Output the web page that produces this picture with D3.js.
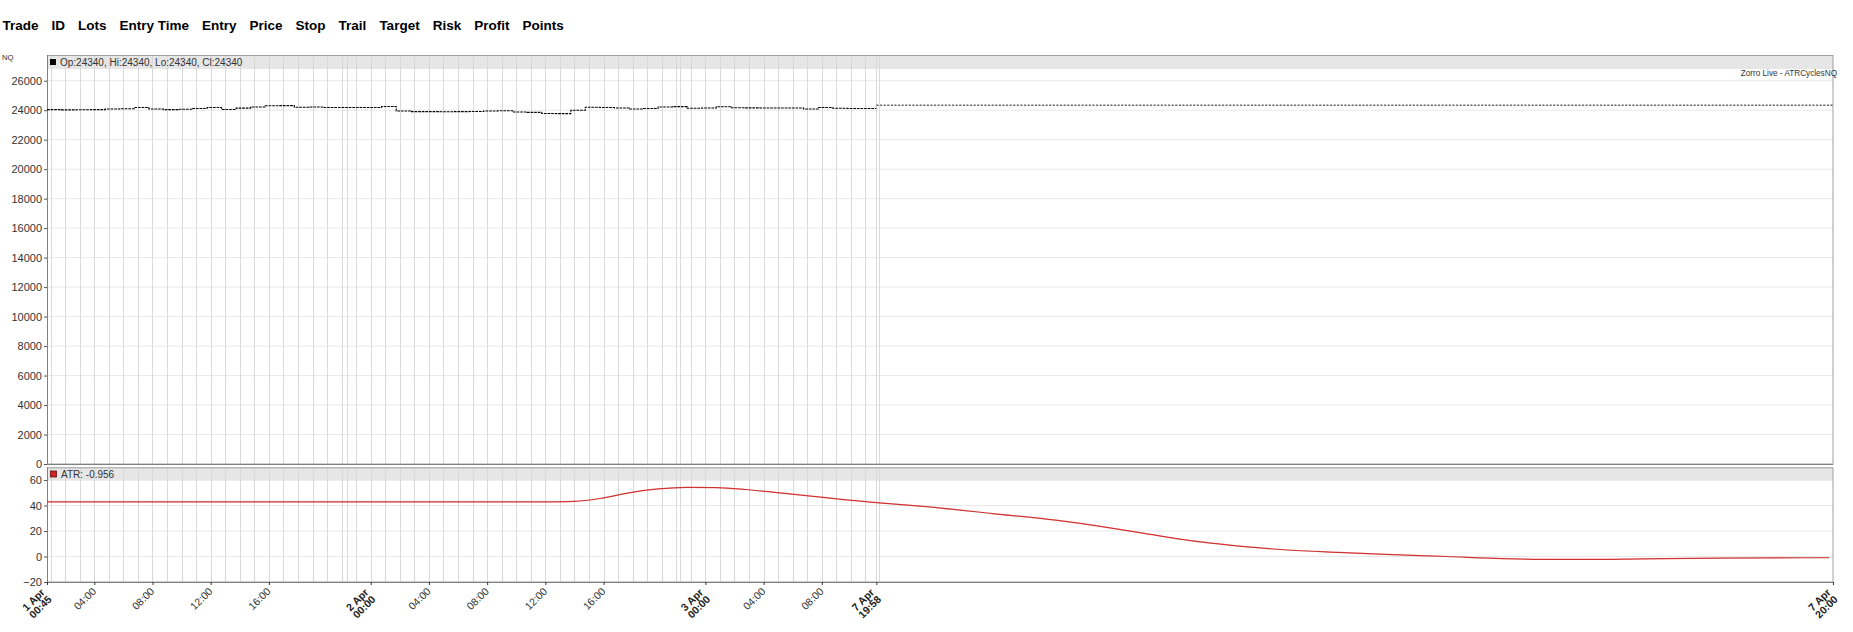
<!DOCTYPE html>
<html><head><meta charset="utf-8">
<script src="https://cdn.jsdelivr.net/npm/d3@7"></script>
<style>
body{margin:0;background:#fff}
svg{display:block}
text{font-family:Arial,"Liberation Sans",sans-serif}
</style>
</head><body>
<svg id="c" width="1853" height="632"></svg>
<script>
// ---------------- DATA ----------------
const headers = ["Trade","ID","Lots","Entry Time","Entry","Price","Stop","Trail","Target","Risk","Profit","Points"];
const symbol = "NQ";
const chartTitle = "Zorro Live - ATRCyclesNQ";
const priceLegend = "Op:24340, Hi:24340, Lo:24340, Cl:24340";
const atrLegend = "ATR: -0.956";

const priceTicks = [0,2000,4000,6000,8000,10000,12000,14000,16000,18000,20000,22000,24000,26000];
const atrTicks = [-20,0,20,40,60];

// x axis: bar index (15-minute bars) and labels
const xTickBars   = [0,13,29,45,61,89,105,121,137,153,181,197,213,228,491];
const xTickLabels = [["1 Apr","00:45"],["04:00"],["08:00"],["12:00"],["16:00"],["2 Apr","00:00"],["04:00"],["08:00"],["12:00"],["16:00"],["3 Apr","00:00"],["04:00"],["08:00"],["7 Apr","19:58"],["7 Apr","20:00"]];
const totalBars = 491;
const histBars = 228;
const extraGridBars = [82.6, 174, 228, 228.8];

// hourly closes of the historical part (each hour = 4 bars)
const hourlyPrice = [24040,24020,24030,24040,24080,24100,24180,24080,24040,24060,
  24120,24180,24050,24140,24220,24300,24310,24200,24220,24180,
  24180,24180,24180,24250,23950,23900,23900,23890,23900,23910,
  23950,23960,23880,23850,23780,23770,24000,24200,24180,24150,
  24080,24110,24220,24240,24130,24150,24230,24170,24160,24150,
  24150,24150,24080,24180,24130,24120,24120];
const livePrice = 24340;

// ATR curve (bar index, value)
const atrBars   = [0,140,145,152,160,168,176,184,192,200,212,228,240,260,280,290,300,310,320,330,340,355,370,385,400,415,430,445,460,475,490];
const atrValues = [42.9,42.9,43.2,45.5,50,53,54.3,54.1,52.6,50.3,46.8,42.3,39.5,33.7,27.5,23.5,19,14.3,10.5,7.6,5.3,3.2,1.5,0,-1.6,-2.3,-2.2,-1.6,-1.2,-1.0,-0.956];

// ---------------- LAYOUT ----------------
const svg = d3.select("#c");
const L = 47, R = 1833;
const topY0 = 55, topY1 = 464;
const lowY0 = 467.3, lowY1 = 582;

const x = d3.scaleLinear().domain([0,totalBars]).range([L,R]);
const yP = d3.scaleLinear().domain([0,27744]).range([topY1,topY0]);
const yA = d3.scaleLinear().domain([-20,70]).range([lowY1,lowY0]);

// header row
const hg = svg.append("g").attr("transform","translate(2.5,29.5)");
let cx = 0;
headers.forEach(h=>{
  const t = hg.append("text").attr("x",cx).attr("y",0).attr("font-size",13.5).attr("font-weight","bold").attr("fill","#000").text(h);
  cx += t.node().getComputedTextLength() + 13;
});

svg.append("text").attr("x",2).attr("y",60).attr("font-size",7.7).attr("fill","#333").text(symbol);

// panels background
function panel(y0,y1,bandH){
  svg.append("rect").attr("x",L).attr("y",y0).attr("width",R-L).attr("height",y1-y0).attr("fill","#fff");
  svg.append("rect").attr("x",L).attr("y",y0).attr("width",R-L).attr("height",bandH).attr("fill","#e6e6e6");
}
panel(topY0,topY1,14);
panel(lowY0,lowY1,13.4);

// horizontal gridlines
svg.append("g").selectAll("line").data(priceTicks.filter(d=>d>0)).join("line")
  .attr("x1",L).attr("x2",R).attr("y1",d=>yP(d)).attr("y2",d=>yP(d))
  .attr("stroke","#e8e8e8").attr("stroke-width",1);
svg.append("g").selectAll("line").data(atrTicks.filter(d=>d>-20 && d<60)).join("line")
  .attr("x1",L).attr("x2",R).attr("y1",d=>yA(d)).attr("y2",d=>yA(d))
  .attr("stroke","#e8e8e8").attr("stroke-width",1);

// vertical gridlines (hourly in historical part)
const vBars = d3.range(1,histBars,4).concat(extraGridBars).concat(xTickBars.filter(b=>b>0 && b<=histBars));
[[topY0,topY1],[lowY0,lowY1]].forEach(([a,b])=>{
  svg.append("g").selectAll("line").data(vBars).join("line")
    .attr("x1",d=>Math.round(x(d))+0.5).attr("x2",d=>Math.round(x(d))+0.5)
    .attr("y1",a).attr("y2",b).attr("stroke","#d9d9d9").attr("stroke-width",1);
});

// borders
[[topY0,topY1],[lowY0,lowY1]].forEach(([a,b])=>{
  svg.append("rect").attr("x",L+0.5).attr("y",a+0.5).attr("width",R-L-0.5).attr("height",b-a-0.5)
    .attr("fill","none").attr("stroke","#a0a0a0").attr("stroke-width",1);
  svg.append("line").attr("x1",L+0.5).attr("x2",L+0.5).attr("y1",a).attr("y2",b).attr("stroke","#808080");
  svg.append("line").attr("x1",L).attr("x2",R).attr("y1",b+0.5).attr("y2",b+0.5).attr("stroke","#808080");
});

// y axes
const yAxisTop = d3.axisLeft(yP).tickValues(priceTicks).tickSize(3).tickPadding(2).tickFormat(d3.format("d"));
const gTop = svg.append("g").attr("transform",`translate(${L},0)`).call(yAxisTop);
const yAxisLow = d3.axisLeft(yA).tickValues(atrTicks).tickSize(3).tickPadding(2).tickFormat(d3.format("d"));
const gLow = svg.append("g").attr("transform",`translate(${L},0)`).call(yAxisLow);
[gTop,gLow].forEach(g=>{
  g.select(".domain").remove();
  g.selectAll(".tick line").attr("stroke","#555");
  g.selectAll(".tick text").attr("font-size",11).attr("fill","#333").attr("font-family","Arial,'Liberation Sans',sans-serif");
});

// x axis ticks & labels
const xg = svg.append("g").attr("transform",`translate(0,${lowY1})`);
xTickBars.forEach((b,i)=>{
  const tx = x(b);
  const g = xg.append("g").attr("transform",`translate(${tx},0)`);
  g.append("line").attr("x1",0.5).attr("x2",0.5).attr("y1",0).attr("y2",3).attr("stroke","#333");
  const lab = xTickLabels[i];
  if(lab.length===1){
    g.append("text").attr("transform","translate(2.5,10) rotate(-45)").attr("text-anchor","end")
      .attr("font-size",10.5).attr("fill","#333").text(lab[0]);
  } else {
    g.append("text").attr("transform","translate(-1.5,11) rotate(-45)").attr("text-anchor","end")
      .attr("font-size",10.5).attr("font-weight","bold").attr("fill","#222").text(lab[0]);
    g.append("text").attr("transform","translate(5.5,18) rotate(-45)").attr("text-anchor","end")
      .attr("font-size",10.5).attr("font-weight","bold").attr("fill","#222").text(lab[1]);
  }
});

// legends
svg.append("rect").attr("x",50).attr("y",59).attr("width",6).attr("height",6).attr("fill","#000");
svg.append("text").attr("x",60).attr("y",66).attr("font-size",10).attr("fill","#333").text(priceLegend);
svg.append("rect").attr("x",50.5).attr("y",471).attr("width",6).attr("height",6).attr("fill","#d42020").attr("stroke","#601010").attr("stroke-width",0.8);
svg.append("text").attr("x",61).attr("y",478).attr("font-size",10).attr("fill","#333").text(atrLegend);
svg.append("text").attr("x",1837).attr("y",76).attr("text-anchor","end").attr("font-size",8.2).attr("fill","#333").text(chartTitle);

// price line (historical, step per hour)
const pricePts = hourlyPrice.map((v,i)=>[i*4,v]);
pricePts.push([histBars, hourlyPrice[hourlyPrice.length-1]]);
const stepLine = d3.line().x(d=>x(d[0])).y(d=>yP(d[1])).curve(d3.curveStepAfter);
svg.append("path").datum(pricePts).attr("d",stepLine).attr("fill","none")
  .attr("stroke","#000").attr("stroke-width",1.1).attr("stroke-dasharray","2.7,0.9");
// live part
svg.append("path").datum([[histBars,livePrice],[totalBars,livePrice]]).attr("d",stepLine).attr("fill","none")
  .attr("stroke","#222").attr("stroke-width",1).attr("stroke-dasharray","2.2,1.4");

// ATR line
const atrPts = atrBars.map((b,i)=>[b,atrValues[i]]);
const atrLine = d3.line().x(d=>x(d[0])).y(d=>yA(d[1])).curve(d3.curveMonotoneX);
svg.append("path").datum(atrPts).attr("d",atrLine).attr("fill","none")
  .attr("stroke","#e23a3a").attr("stroke-width",1.2);
svg.append("path").datum(atrPts).attr("d",atrLine).attr("fill","none")
  .attr("stroke","#7a1a1a").attr("stroke-width",0.4).attr("opacity",0.5);
</script>
</body></html>
